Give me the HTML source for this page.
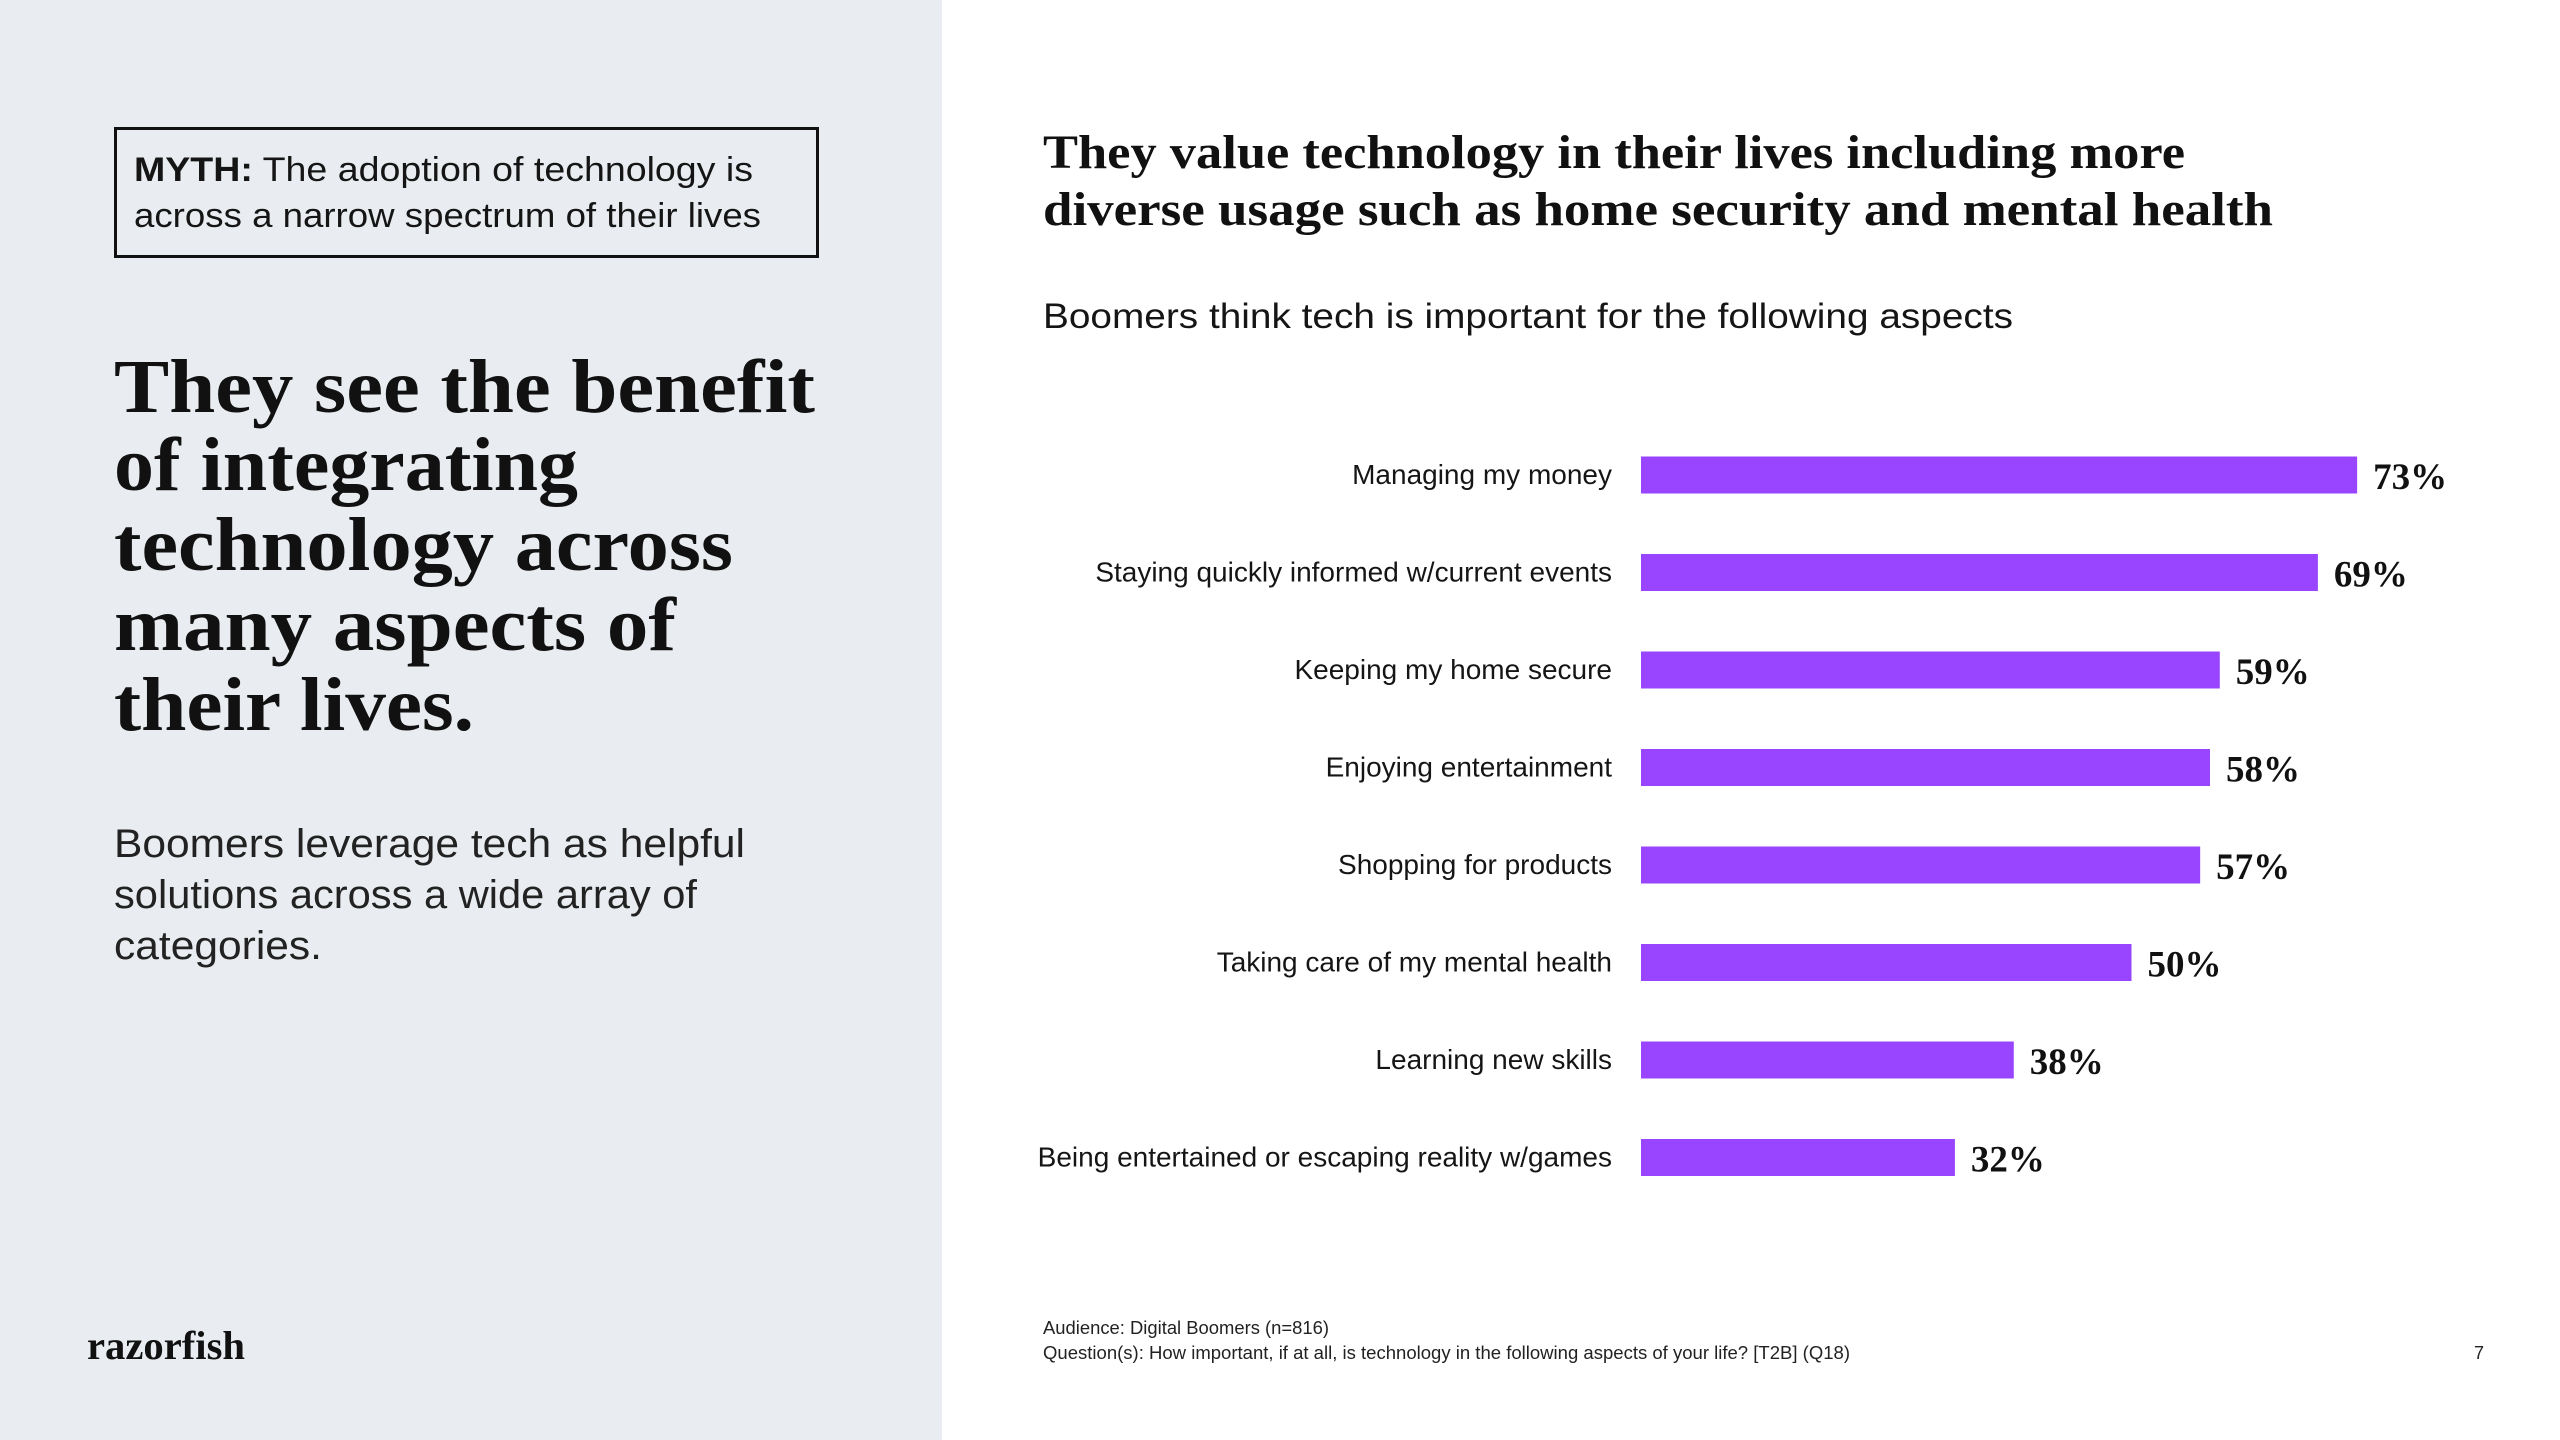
<!DOCTYPE html>
<html><head><meta charset="utf-8"><style>
html,body{margin:0;padding:0;width:2560px;height:1440px;overflow:hidden;background:#fff}
svg{display:block}
.sans{font-family:"Liberation Sans",sans-serif}
.serif{font-family:"Liberation Serif",serif;font-weight:bold}
</style></head><body>
<svg id="page" width="2560" height="1440" viewBox="0 0 2560 1440">
<rect x="0" y="0" width="942" height="1440" fill="#e9edf1"/>
<rect x="115.5" y="128.5" width="702" height="128" fill="none" stroke="#111" stroke-width="3"/>
<text class="sans" x="134" y="181" font-size="34" fill="#151515" textLength="619" lengthAdjust="spacingAndGlyphs"><tspan font-weight="bold">MYTH:</tspan> The adoption of technology is</text>
<text class="sans" x="134" y="227" font-size="34" fill="#151515" textLength="627" lengthAdjust="spacingAndGlyphs">across a narrow spectrum of their lives</text>
<g class="serif" font-size="76" fill="#111">
<text x="114" y="412" textLength="701" lengthAdjust="spacingAndGlyphs">They see the benefit</text>
<text x="114" y="490" textLength="464" lengthAdjust="spacingAndGlyphs">of integrating</text>
<text x="114" y="570" textLength="619" lengthAdjust="spacingAndGlyphs">technology across</text>
<text x="114" y="650" textLength="562" lengthAdjust="spacingAndGlyphs">many aspects of</text>
<text x="114" y="730" textLength="360" lengthAdjust="spacingAndGlyphs">their lives.</text>
</g>
<g class="sans" font-size="40" fill="#222">
<text x="114" y="857" textLength="631" lengthAdjust="spacingAndGlyphs">Boomers leverage tech as helpful</text>
<text x="114" y="908" textLength="583" lengthAdjust="spacingAndGlyphs">solutions across a wide array of</text>
<text x="114" y="959" textLength="208" lengthAdjust="spacingAndGlyphs">categories.</text>
</g>
<text class="serif" x="87" y="1359" font-size="40" fill="#111" textLength="158" lengthAdjust="spacingAndGlyphs">razorfish</text>
<text class="serif" x="1043" y="168" font-size="48" fill="#111" textLength="1142" lengthAdjust="spacingAndGlyphs">They value technology in their lives including more</text>
<text class="serif" x="1043" y="225" font-size="48" fill="#111" textLength="1230" lengthAdjust="spacingAndGlyphs">diverse usage such as home security and mental health</text>
<text class="sans" x="1043" y="328" font-size="35" fill="#151515" textLength="970" lengthAdjust="spacingAndGlyphs">Boomers think tech is important for the following aspects</text>
<g id="chart"></g>
<text class="sans" x="1043" y="1334" font-size="18" fill="#222" textLength="286" lengthAdjust="spacingAndGlyphs">Audience: Digital Boomers (n=816)</text>
<text class="sans" x="1043" y="1359" font-size="18" fill="#222" textLength="807" lengthAdjust="spacingAndGlyphs">Question(s): How important, if at all, is technology in the following aspects of your life? [T2B] (Q18)</text>
<text class="sans" x="2474" y="1359" font-size="18" fill="#222">7</text>
</svg>
<script>
const categories = ["Managing my money","Staying quickly informed w/current events","Keeping my home secure","Enjoying entertainment","Shopping for products","Taking care of my mental health","Learning new skills","Being entertained or escaping reality w/games"];
const values = [73,69,59,58,57,50,38,32];
const valueLabels = ["73%","69%","59%","58%","57%","50%","38%","32%"];

const NS = "http://www.w3.org/2000/svg";
const x0 = 1641, pxPerPct = 9.81;
const xScale = v => x0 + v * pxPerPct;
const yCenter = i => 475 + i * 97.5;
const barH = 37;
const g = document.getElementById('chart');
categories.forEach((c, i) => {
  const cy = yCenter(i);
  const lab = document.createElementNS(NS, 'text');
  lab.setAttribute('x', 1612); lab.setAttribute('y', cy + 9);
  lab.setAttribute('text-anchor', 'end'); lab.setAttribute('class', 'sans');
  lab.setAttribute('font-size', '28'); lab.setAttribute('fill', '#151515');
  lab.textContent = c;
  
  
  g.appendChild(lab);
  const r = document.createElementNS(NS, 'rect');
  r.setAttribute('x', xScale(0)); r.setAttribute('y', cy - barH / 2);
  r.setAttribute('width', xScale(values[i]) - xScale(0)); r.setAttribute('height', barH);
  r.setAttribute('fill', '#9945ff');
  
  
  g.appendChild(r);
  const v = document.createElementNS(NS, 'text');
  v.setAttribute('x', xScale(values[i]) + 16); v.setAttribute('y', cy + 14);
  v.setAttribute('class', 'serif'); v.setAttribute('font-size', '37'); v.setAttribute('fill', '#111');
  v.textContent = valueLabels[i];
  
  
  g.appendChild(v);
});
</script>
</body></html>
